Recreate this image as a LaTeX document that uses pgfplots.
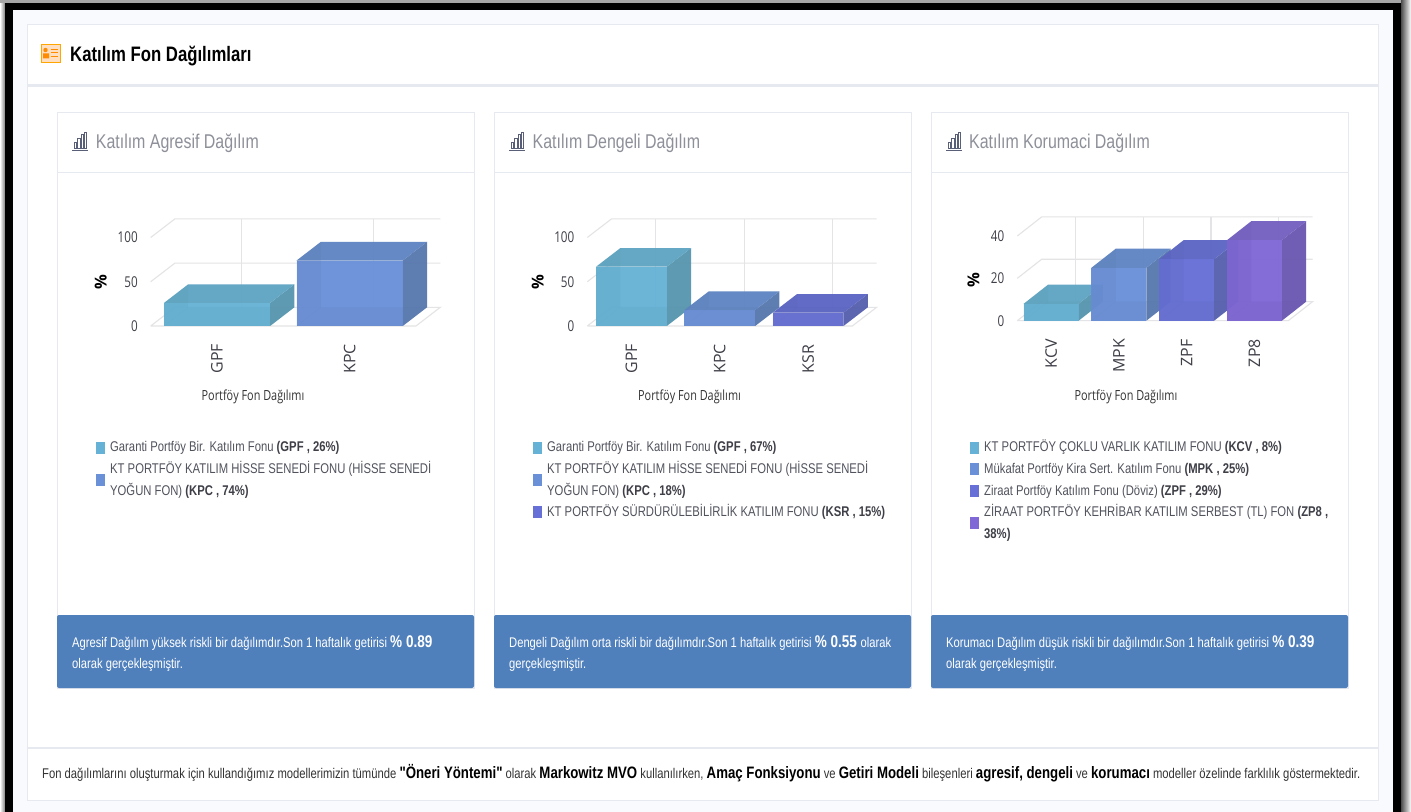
\documentclass[border=0pt]{standalone}
\usepackage{pgfplots}
\pgfplotsset{compat=1.18}
\usepackage{fontspec}
\setmainfont{Liberation Sans}[FakeStretch=0.8]
\newfontfamily\quotefont{Liberation Sans}[FakeStretch=0.8]
\newfontfamily\osans{Open Sans}[FakeStretch=0.78]
\newfontfamily\osanswide{Open Sans}

\definecolor{pagebg}{HTML}{F9FAFE}
\definecolor{edge}{HTML}{E6E9F0}
\definecolor{band}{HTML}{5080BC}
\definecolor{gridc}{HTML}{E4E4E6}
\definecolor{head}{HTML}{8E9099}
\definecolor{body}{HTML}{50525C}
\definecolor{strong}{HTML}{3E3F47}
\definecolor{iconc}{HTML}{5A5F78}
\definecolor{cAf}{HTML}{66B2D6}\definecolor{cAt}{HTML}{5FA5C3}\definecolor{cAs}{HTML}{5896AE}
\definecolor{cBf}{HTML}{6A90D8}\definecolor{cBt}{HTML}{5F85C2}\definecolor{cBs}{HTML}{5878AE}
\definecolor{cCf}{HTML}{6670D6}\definecolor{cCt}{HTML}{5C66C4}\definecolor{cCs}{HTML}{5660AE}
\definecolor{cDf}{HTML}{8068D6}\definecolor{cDt}{HTML}{7460C0}\definecolor{cDs}{HTML}{6A58B0}

% one 3D column: position, value, colour prefix (depth from \dpx and \dpy)
\newcommand{\cube}[3]{%
  \pgfmathsetmacro{\xl}{#1-\hw}\pgfmathsetmacro{\xr}{#1+\hw}%
  \pgfmathsetmacro{\xL}{\xl+\dpx}\pgfmathsetmacro{\xR}{\xr+\dpx}%
  \pgfmathsetmacro{\yT}{#2+\dpy}%
  \addplot[draw=none,fill=#3s,fill opacity=.96] coordinates {(\xr,0)(\xR,\dpy)(\xR,\yT)(\xr,#2)};
  \addplot[draw=none,fill=#3t,fill opacity=.96] coordinates {(\xl,#2)(\xL,\yT)(\xR,\yT)(\xr,#2)};
  \addplot[draw=none,fill=#3f,fill opacity=.96] coordinates {(\xl,0)(\xl,#2)(\xr,#2)(\xr,0)};
  \addplot[draw=none,fill=#3s,fill opacity=.16] coordinates {(\xl,0)(\xL,\dpy)(\xL,\yT)(\xl,#2)};
  \addplot[draw=none,fill=#3s,fill opacity=.16] coordinates {(\xl,0)(\xL,\dpy)(\xR,\dpy)(\xr,0)};
}
\newcommand{\txt}[3]{\node[anchor=base west,inner sep=0pt,font=\fontsize{14.15}{16}\selectfont,text=body] at (#1,#2) {#3};}
\newcommand{\swatch}[3]{\fill[#3] (#1,#2-6) rectangle (#1+9.3,#2+6);}
\newcommand{\barsicon}[2]{%
  \draw[line width=.8pt,color=iconc] (#1,#2+18) -- (#1+15.5,#2+18);
  \draw[line width=.6pt,color=iconc]
    (#1+2,#2+16.5) rectangle (#1+4.5,#2+10)
    (#1+5.5,#2+16.5) rectangle (#1+8,#2+6)
    (#1+9,#2+16.5) rectangle (#1+11,#2+2)
    (#1+12,#2+16.5) rectangle (#1+14.5,#2);
}
\newcommand{\card}[1]{%
  \fill[white] (#1,113) rectangle (#1+417,688);
  \draw[edge,line width=1pt] (#1,113) rectangle (#1+417,688);
  \draw[edge,line width=2pt] (#1,172.5) -- (#1+417,172.5);
  \fill[band,rounded corners=2pt] (#1,615) rectangle (#1+417,688);
}
\pgfplotsset{
  minibars/.style={
    scale only axis,anchor=south west,clip=false,
    axis line style={draw=none},
    major tick length=0pt,
    /pgf/number format/assume math mode=true,
    ylabel={\textbf{\%}},
    xlabel={Portföy Fon Dağılımı},
    tick label style={text=strong},
    yticklabel style={font=\osans\fontsize{15}{17}\selectfont,anchor=east,xshift=-9.5bp},
    xticklabel style={font=\osanswide\fontsize{16}{18}\selectfont,rotate=90,anchor=west},
    xlabel style={font=\osans\fontsize{14}{16}\selectfont,text=black!80,anchor=center},
    ylabel style={font=\osanswide\fontsize{16.5}{18}\selectfont,text=black,anchor=center,rotate=0},
    ymin=0,
  },
  gridline/.style={draw=gridc,line width=1.1pt},
}

\begin{document}
\begin{tikzpicture}
% page furniture in pixel coordinates
\begin{axis}[at={(0,0)},anchor=south west,scale only axis,width=1411bp,height=812bp,
  xmin=0,xmax=1411,ymin=0,ymax=812,y dir=reverse,hide axis,clip=false]
\fill[white] (0,0) rectangle (1411,812);
\shade[left color=white,right color=black!50] (0,0) rectangle (5,812);
\shade[left color=black!70,right color=white] (1401,0) rectangle (1411,812);
\fill[black!35] (0,0) rectangle (1401,3);
\fill[black] (5,3) rectangle (1401,812);
\fill[pagebg] (13,10) rectangle (1393,812);
\fill[white] (27,25) rectangle (1378,747);
\draw[edge,line width=1pt] (27,25) rectangle (1378,747);
\draw[edge,line width=2.4pt] (27,85.5) -- (1378,85.5);
\fill[white] (27,749) rectangle (1378,800);
\draw[edge,line width=1pt] (27,748) rectangle (1378,800);
\card{57}\card{494}\card{931}
% title icon
\draw[fill=orange!25,draw=orange!70!yellow,line width=1pt] (41.5,44.5) rectangle (60.5,63);
\fill[orange!90!yellow] (45.5,50) circle (2.2) (43,58.5) rectangle (49,53.5);
\draw[orange!90!yellow,line width=.8pt] (51,49) -- (58,49) (51,52.5) -- (58,52.5) (51,56) -- (58,56);
\node[anchor=base west,inner sep=0pt,font=\bfseries\fontsize{21}{24}\selectfont] at (70,61.3) {Katılım Fon Dağılımları};
% card titles
\barsicon{72}{132}\barsicon{509}{132}\barsicon{946}{132}
\node[anchor=base west,inner sep=0pt,text=head,font=\fontsize{20}{22}\selectfont] at (95.7,148.3) {Katılım Agresif Dağılım};
\node[anchor=base west,inner sep=0pt,text=head,font=\fontsize{20}{22}\selectfont] at (532.5,148.3) {Katılım Dengeli Dağılım};
\node[anchor=base west,inner sep=0pt,text=head,font=\fontsize{20}{22}\selectfont] at (969,148.3) {Katılım Korumaci Dağılım};
% legends
\swatch{95.7}{448}{cAf}\swatch{95.7}{479.5}{cBf}
\txt{110}{451.7}{Garanti Portföy Bir. Katılım Fonu \textcolor{strong}{\textbf{(GPF , 26\%)}}}
\txt{110}{473.3}{KT PORTFÖY KATILIM HİSSE SENEDİ FONU (HİSSE SENEDİ}
\txt{110}{495}{YOĞUN FON) \textcolor{strong}{\textbf{(KPC , 74\%)}}}
\swatch{533}{448}{cAf}\swatch{533}{479.5}{cBf}\swatch{533}{512}{cCf}
\txt{547}{451.7}{Garanti Portföy Bir. Katılım Fonu \textcolor{strong}{\textbf{(GPF , 67\%)}}}
\txt{547}{473.3}{KT PORTFÖY KATILIM HİSSE SENEDİ FONU (HİSSE SENEDİ}
\txt{547}{495}{YOĞUN FON) \textcolor{strong}{\textbf{(KPC , 18\%)}}}
\txt{547}{516.7}{KT PORTFÖY SÜRDÜRÜLEBİLİRLİK KATILIM FONU \textcolor{strong}{\textbf{(KSR , 15\%)}}}
\swatch{970}{448}{cAf}\swatch{970}{469}{cBf}\swatch{970}{491}{cCf}\swatch{970}{523}{cDf}
\txt{984}{451.7}{KT PORTFÖY ÇOKLU VARLIK KATILIM FONU \textcolor{strong}{\textbf{(KCV , 8\%)}}}
\txt{984}{473.3}{Mükafat Portföy Kira Sert. Katılım Fonu \textcolor{strong}{\textbf{(MPK , 25\%)}}}
\txt{984}{495}{Ziraat Portföy Katılım Fonu (Döviz) \textcolor{strong}{\textbf{(ZPF , 29\%)}}}
\txt{984}{516.7}{ZİRAAT PORTFÖY KEHRİBAR KATILIM SERBEST (TL) FON \textcolor{strong}{\textbf{(ZP8 ,}}}
\txt{984}{538.3}{\textcolor{strong}{\textbf{38\%)}}}
% blue bands
\newcommand{\bandtxt}[3]{%
  \node[anchor=base west,inner sep=0pt,text=white,font=\fontsize{14.05}{16}\selectfont] at (#1,647.3) {#2 {\bfseries\fontsize{17}{18}\selectfont\% #3}};
}
\bandtxt{72}{Agresif Dağılım yüksek riskli bir dağılımdır.Son 1 haftalık getirisi}{0.89}
\bandtxt{509}{Dengeli Dağılım orta riskli bir dağılımdır.Son 1 haftalık getirisi}{0.55 {\normalfont\fontsize{14.05}{16}\selectfont olarak}}
\bandtxt{946}{Korumacı Dağılım düşük riskli bir dağılımdır.Son 1 haftalık getirisi}{0.39}
\node[anchor=base west,inner sep=0pt,text=white,font=\fontsize{14.05}{16}\selectfont] at (72,668.3) {olarak gerçekleşmiştir.};
\node[anchor=base west,inner sep=0pt,text=white,font=\fontsize{14.05}{16}\selectfont] at (509,668.3) {gerçekleşmiştir.};
\node[anchor=base west,inner sep=0pt,text=white,font=\fontsize{14.05}{16}\selectfont] at (946,668.3) {olarak gerçekleşmiştir.};
% footer
\newcommand{\fb}[1]{{\bfseries\color{black}\fontsize{16.6}{18}\selectfont #1}}
\node[anchor=base west,inner sep=0pt,text=black!80,font=\fontsize{14.13}{16}\selectfont] at (42,778.6) {Fon dağılımlarını oluşturmak için kullandığımız modellerimizin tümünde \fb{\quotefont\bfseries "Öneri Yöntemi"} olarak \fb{Markowitz MVO} kullanılırken, \fb{Amaç Fonksiyonu} ve \fb{Getiri Modeli} bileşenleri \fb{agresif, dengeli} ve \fb{korumacı} modeller özelinde farklılık göstermektedir.};
\end{axis}

% Katılım Agresif
\begin{axis}[minibars,at={(150.7bp,486bp)},width=265.3bp,height=88.5bp,
  xmin=-.5,xmax=1.5,ymax=100,xtick={0,1},xticklabels={GPF,KPC},ytick={0,50,100},
  xticklabel style={shift={(-51bp,0)}},
  xlabel style={at={(axis description cs:.3856,-.799)}},
  ylabel style={at={(axis description cs:-.1885,.5)}}]
\def\hw{.4}\def\dpx{.183}\def\dpy{21.1}
\addplot[gridline] coordinates {(-.5,0)(-.317,21.1)(1.683,21.1)(1.5,0)(-.5,0)};
\addplot[gridline] coordinates {(-.5,50)(-.317,71.1)(1.683,71.1)};
\addplot[gridline] coordinates {(-.5,100)(-.317,121.1)(1.683,121.1)};
\addplot[gridline] coordinates {(.183,21.1)(.183,121.1)};
\addplot[gridline] coordinates {(1.183,21.1)(1.183,121.1)};
\cube{0}{26}{cA}
\cube{1}{74}{cB}
\end{axis}

% Katılım Dengeli
\begin{axis}[minibars,at={(587.3bp,486bp)},width=265bp,height=88.5bp,
  xmin=-.5,xmax=2.5,ymax=100,xtick={0,1,2},xticklabels={GPF,KPC,KSR},ytick={0,50,100},
  xticklabel style={shift={(-51bp,0)}},
  xlabel style={at={(axis description cs:.3857,-.799)}},
  ylabel style={at={(axis description cs:-.187,.5)}}]
\def\hw{.4}\def\dpx{.275}\def\dpy{21.1}
\addplot[gridline] coordinates {(-.5,0)(-.225,21.1)(2.775,21.1)(2.5,0)(-.5,0)};
\addplot[gridline] coordinates {(-.5,50)(-.225,71.1)(2.775,71.1)};
\addplot[gridline] coordinates {(-.5,100)(-.225,121.1)(2.775,121.1)};
\addplot[gridline] coordinates {(.275,21.1)(.275,121.1)};
\addplot[gridline] coordinates {(1.275,21.1)(1.275,121.1)};
\addplot[gridline] coordinates {(2.275,21.1)(2.275,121.1)};
\cube{0}{67}{cA}
\cube{1}{18}{cB}
\cube{2}{15}{cC}
\end{axis}

% Katılım Korumaci
\begin{axis}[minibars,at={(1017.3bp,491.3bp)},width=271bp,height=84.7bp,
  xmin=-.5,xmax=3.5,ymax=40,xtick={0,1,2,3},xticklabels={KCV,MPK,ZPF,ZP8},ytick={0,20,40},
  xticklabel style={anchor=east,shift={(-15bp,0)}},
  xlabel style={at={(axis description cs:.401,-.897)}},
  ylabel style={at={(axis description cs:-.162,.48)}}]
\def\hw{.405}\def\dpx{.359}\def\dpy{9}
\addplot[gridline] coordinates {(-.5,0)(-.141,9)(3.859,9)(3.5,0)(-.5,0)};
\addplot[gridline] coordinates {(-.5,20)(-.141,29)(3.859,29)};
\addplot[gridline] coordinates {(-.5,40)(-.141,49)(3.859,49)};
\addplot[gridline] coordinates {(.359,9)(.359,49)};
\addplot[gridline] coordinates {(1.359,9)(1.359,49)};
\addplot[gridline] coordinates {(2.359,9)(2.359,49)};
\addplot[gridline] coordinates {(3.359,9)(3.359,49)};
\cube{0}{8}{cA}
\cube{1}{25}{cB}
\cube{2}{29}{cC}
\cube{3}{38}{cD}
\end{axis}
\end{tikzpicture}
\end{document}
